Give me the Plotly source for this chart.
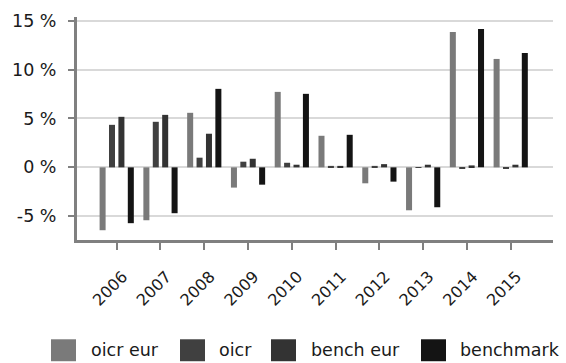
import plotly.graph_objects as go

# Annual returns (%) per year
years = ["2006", "2007", "2008", "2009", "2010", "2011", "2012", "2013", "2014", "2015"]
oicr_eur = [-6.43, -5.41, 5.58, -2.07, 7.72, 3.23, -1.63, -4.39, 13.84, 11.09]
oicr = [4.35, 4.66, 0.99, 0.58, 0.47, 0.15, 0.15, -0.05, -0.10, -0.10]
bench_eur = [5.17, 5.37, 3.44, 0.88, 0.27, 0.15, 0.33, 0.27, 0.20, 0.27]
benchmark = [-5.71, -4.69, 8.03, -1.77, 7.52, 3.33, -1.46, -4.08, 14.15, 11.70]

series_names = ["oicr eur", "oicr", "bench eur", "benchmark"]
series_values = [oicr_eur, oicr, bench_eur, benchmark]
series_colors = ["#7a7a7a", "#404040", "#333333", "#141414"]

y_tick_vals = [-5, 0, 5, 10, 15]
y_tick_text = ["-5 %", "0 %", "5 %", "10 %", "15 %"]

FONT = "DejaVu Sans"
TEXT_COLOR = "#1a1a1a"
W, H = 566, 363
ML, MR, MT, MB = 77, 13, 17, 122.5
plot_w = W - ML - MR
plot_h = H - MT - MB

fig = go.Figure()
for name, vals, col in zip(series_names, series_values, series_colors):
    fig.add_trace(go.Bar(
        x=list(range(len(years))), y=vals, name=name,
        marker=dict(color=col, line=dict(width=0)),
        showlegend=False,
    ))

# Legend drawn as square swatches with labels below the axis
legend_swatch_x = [51, 180, 271, 421]
legend_text_x = [89, 217, 309, 458]
sw_top, sw_bot = 340, 362


def px_x(p):
    return (p - ML) / plot_w


def px_y(p):
    return (H - MB - p) / plot_h


shapes = []
annotations = []
for sx, tx, name, col in zip(legend_swatch_x, legend_text_x, series_names, series_colors):
    shapes.append(dict(type="rect", xref="paper", yref="paper",
                       x0=px_x(sx), x1=px_x(sx + 25), y0=px_y(sw_bot), y1=px_y(sw_top),
                       fillcolor=col, line=dict(width=0), layer="above"))
    annotations.append(dict(xref="paper", yref="paper", x=px_x(tx), y=px_y((sw_top + sw_bot) / 2),
                            text=name, showarrow=False, xanchor="left", yanchor="middle",
                            font=dict(family=FONT, size=17.5, color=TEXT_COLOR)))

fig.update_layout(
    width=W, height=H,
    margin=dict(l=ML, r=MR, t=MT, b=MB, pad=0),
    paper_bgcolor="white", plot_bgcolor="white",
    barmode="group", bargap=0.141, bargroupgap=0.36,
    font=dict(family=FONT, size=17, color=TEXT_COLOR),
    shapes=shapes, annotations=annotations,
    xaxis=dict(
        range=[-0.907, 9.966],
        tickmode="array", tickvals=list(range(len(years))), ticktext=years,
        tickangle=-45, ticks="outside", ticklen=7, tickwidth=2, tickcolor="#808080",
        showline=True, linecolor="#808080", linewidth=3,
        showgrid=False, zeroline=False, ticklabelstandoff=11, ticklabelshift=6,
        tickfont=dict(family=FONT, size=16, color=TEXT_COLOR),
    ),
    yaxis=dict(
        range=[-7.43, 15.38],
        tickmode="array", tickvals=y_tick_vals, ticktext=y_tick_text,
        ticks="outside", ticklen=6, tickwidth=2, tickcolor="#808080",
        showline=True, linecolor="#808080", linewidth=3,
        showgrid=True, gridcolor="#d9d9d9", gridwidth=2,
        zeroline=False, ticklabelstandoff=8,
        tickfont=dict(family=FONT, size=17.5, color=TEXT_COLOR),
    ),
)

fig.write_html("out.html")
